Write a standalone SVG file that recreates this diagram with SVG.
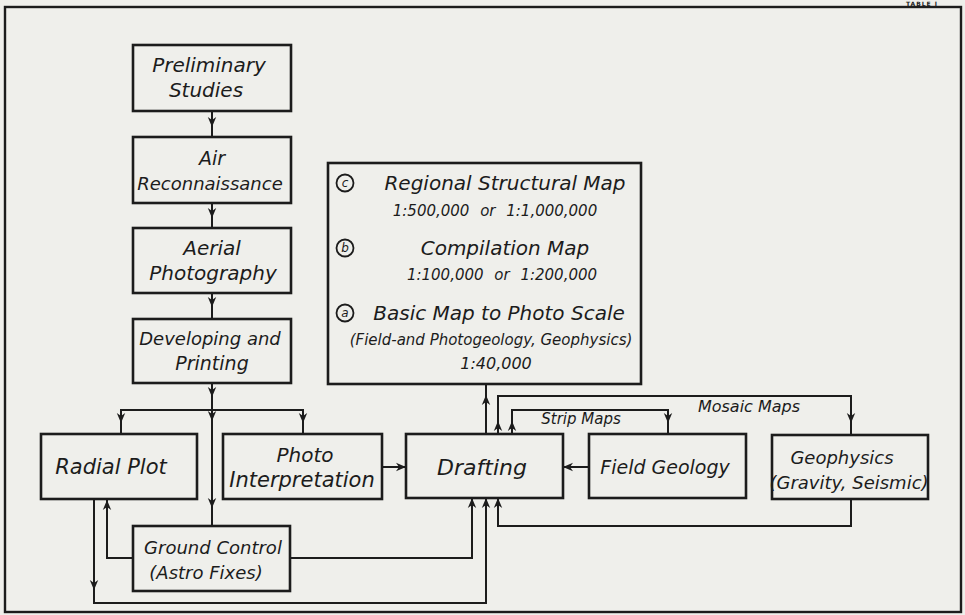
<svg xmlns="http://www.w3.org/2000/svg" width="965" height="615" viewBox="0 0 965 615">
<defs>
<marker id="ah" viewBox="-11 -5 12 10" refX="0" refY="0" markerWidth="12" markerHeight="10" markerUnits="userSpaceOnUse" orient="auto">
<path d="M0,0 L-10,-4.2 L-7,0 L-10,4.2 Z" fill="#1c1c1c"/>
</marker>
</defs>
<style>
.box{fill:none;stroke:#1c1c1c;stroke-width:2.6}
.c{fill:none;stroke:#1c1c1c;stroke-width:2}
.a{marker-end:url(#ah)}
.circ{fill:none;stroke:#1c1c1c;stroke-width:1.8}
text{font-family:"DejaVu Sans","Liberation Sans",sans-serif;font-style:italic;fill:#1c1c1c;text-anchor:middle;dominant-baseline:central}
.l{font-size:18px}
.t{font-size:20px}
.s{font-size:15px}
.sm{font-size:12px}
</style>
<rect x="0" y="0" width="965" height="615" fill="#efefeb"/>
<g id="frame">
<rect x="5" y="7" width="956" height="605" fill="none" stroke="#1c1c1c" stroke-width="2.4"/>
<text x="922" y="1" style="font-size:6px;font-weight:bold;font-style:normal;dominant-baseline:hanging;letter-spacing:1px">TABLE I</text>
</g>
<g id="connectors">
<path class="c a" d="M212,111 V127"/><path class="c" d="M212,127 V137"/>
<path class="c a" d="M212,203 V218"/><path class="c" d="M212,218 V228"/>
<path class="c a" d="M212,293 V307"/><path class="c" d="M212,307 V319"/>
<path class="c a" d="M212,383 V397"/>
<path class="c a" d="M212,397 V421"/>
<path class="c a" d="M212,421 V508"/><path class="c" d="M212,508 V526"/>
<path class="c a" d="M212,410 H121 V423"/><path class="c" d="M121,423 V434"/>
<path class="c a" d="M212,410 H303 V423"/><path class="c" d="M303,423 V434"/>
<path class="c a" d="M133,558 H107 V500"/>
<path class="c a" d="M94,499 V590"/><path class="c a" d="M94,590 V603 H486 V498"/>
<path class="c a" d="M290,558 H472 V498"/>
<path class="c a" d="M382,467 H406"/>
<path class="c a" d="M589,467 H563"/>
<path class="c a" d="M851,499 V526 H498 V498"/>
<path class="c a" d="M486,434 V395"/><path class="c" d="M486,395 V384"/>
<path class="c a" d="M498,434 V421"/><path class="c a" d="M498,421 V396 H851 V423"/><path class="c" d="M851,423 V435"/>
<path class="c a" d="M512,434 V421"/><path class="c a" d="M512,421 V410 H668 V423"/><path class="c" d="M668,423 V434"/>
<text class="s" x="581" y="419">Strip Maps</text>
<text style="font-size:16px" x="749" y="406">Mosaic Maps</text>
</g>
<g id="prelim"><rect class="box" x="133" y="45" width="158" height="66"/><text class="l" x="209" y="65" style="font-size:20px">Preliminary</text><text class="l" x="206" y="90" style="font-size:20px">Studies</text></g>
<g id="air"><rect class="box" x="133" y="137" width="158" height="66"/><text class="l" x="212" y="158" style="font-size:19px">Air</text><text class="l" x="210" y="183">Reconnaissance</text></g>
<g id="aerial"><rect class="box" x="133" y="228" width="158" height="65"/><text class="l" x="212" y="248" style="font-size:20px">Aerial</text><text class="l" x="213" y="273" style="font-size:20px">Photography</text></g>
<g id="developing"><rect class="box" x="133" y="319" width="158" height="64"/><text class="l" x="210" y="338">Developing and</text><text class="l" x="212" y="363" style="font-size:19px">Printing</text></g>
<g id="radial"><rect class="box" x="41" y="434" width="156" height="65"/><text class="l" x="111" y="467" style="font-size:21px">Radial Plot</text></g>
<g id="photo"><rect class="box" x="223" y="434" width="159" height="65"/><text class="l" x="305" y="455" style="font-size:20px">Photo</text><text class="l" x="302" y="480" style="font-size:21px">Interpretation</text></g>
<g id="ground"><rect class="box" x="133" y="526" width="157" height="65"/><text class="l" x="213" y="547">Ground Control</text><text class="l" x="206" y="572">(Astro Fixes)</text></g>
<g id="drafting"><rect class="box" x="406" y="434" width="157" height="64"/><text class="l" x="482" y="467" style="font-size:22px">Drafting</text></g>
<g id="field"><rect class="box" x="589" y="434" width="157" height="64"/><text class="l" x="665" y="467" style="font-size:19px">Field Geology</text></g>
<g id="geophysics"><rect class="box" x="772" y="435" width="156" height="64"/><text class="l" x="842" y="457">Geophysics</text><text class="l" x="849" y="482">(Gravity, Seismic)</text></g>
<g id="maps">
<rect class="box" x="328" y="163" width="313" height="221"/>
<circle class="circ" cx="345" cy="183" r="8.5"/><text class="sm" x="345" y="183">c</text>
<text class="t" x="505" y="183">Regional Structural Map</text>
<text class="s" x="495" y="211" style="word-spacing:6px">1:500,000 or 1:1,000,000</text>
<circle class="circ" cx="345" cy="248" r="8.5"/><text class="sm" x="345" y="248">b</text>
<text class="t" x="505" y="248">Compilation Map</text>
<text class="s" x="502" y="275" style="word-spacing:6px">1:100,000 or 1:200,000</text>
<circle class="circ" cx="345" cy="313" r="8.5"/><text class="sm" x="345" y="313">a</text>
<text class="t" x="499" y="313">Basic Map to Photo Scale</text>
<text class="s" x="491" y="340">(Field-and Photogeology, Geophysics)</text>
<text class="s" x="496" y="363" style="font-size:16px">1:40,000</text>
</g>
</svg>
